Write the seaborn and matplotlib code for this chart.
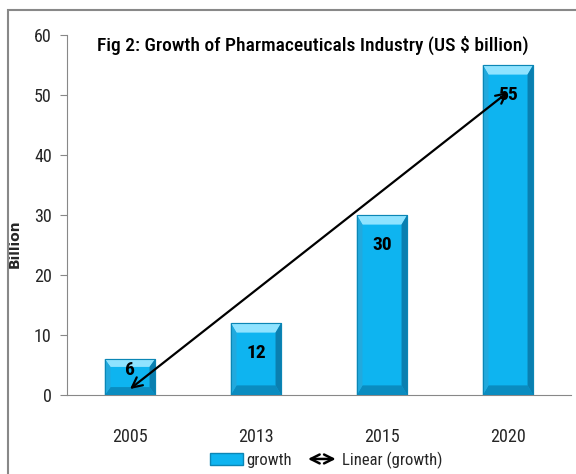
import numpy as np
import pandas as pd
import matplotlib
matplotlib.use("Agg")
import matplotlib.pyplot as plt
import seaborn as sns
from matplotlib.patches import Polygon, Patch, FancyArrowPatch, Rectangle
from matplotlib.lines import Line2D
from matplotlib.legend_handler import HandlerBase

years = ["2005", "2013", "2015", "2020"]
growth = [6, 12, 30, 55]
yticks = [0, 10, 20, 30, 40, 50, 60]
title = "Fig 2: Growth of Pharmaceuticals Industry (US $ billion)"
ylabel = "Billion"

sns.set_style("white")
FONT = ['Roboto Condensed', 'DejaVu Sans']
plt.rcParams['font.family'] = FONT

df = pd.DataFrame({"year": years, "growth": growth})

fig = plt.figure(figsize=(5.76, 4.74), dpi=100)
ax = fig.add_axes([67/576, 1-395/474, (571-67)/576, (395-35)/474])

BAR = "#0EB4F0"
EDGE = "#0B86B5"
sns.barplot(data=df, x="year", y="growth", color=BAR, width=0.4,
            saturation=1, edgecolor=EDGE, linewidth=0.8, ax=ax, zorder=2)

# bevel decoration derived from bar geometry
for p in list(ax.patches):
    x0, y0 = p.get_x(), p.get_y()
    w, h = p.get_width(), p.get_height()
    x1, y1 = x0 + w, y0 + h
    bx, by = 0.045, min(1.6, h * 0.22)
    tops = [(x0, y1), (x1, y1), (x1 - bx, y1 - by), (x0 + bx, y1 - by)]
    bots = [(x0, y0), (x1, y0), (x1 - bx, y0 + by), (x0 + bx, y0 + by)]
    lefts = [(x0, y0), (x0, y1), (x0 + bx, y1 - by), (x0 + bx, y0 + by)]
    rights = [(x1, y0), (x1, y1), (x1 - bx, y1 - by), (x1 - bx, y0 + by)]
    for pts, c in [(tops, "#8FE3FF"), (bots, "#0A8CC0"), (lefts, "#22A9DD"), (rights, "#0A7FB0")]:
        ax.add_patch(Polygon(pts, closed=True, facecolor=c, edgecolor="none", zorder=3))
    ax.add_patch(Rectangle((x0, y0), w, h, fill=False, edgecolor=EDGE, lw=0.8, zorder=4))

# value labels
for i, v in enumerate(growth):
    ax.text(i, max(v - 5, 4.2), str(v), ha="center", va="center",
            fontsize=14, fontweight="bold", color="black", zorder=6)

# linear trend arrow
xs = np.arange(len(growth))
slope, icpt = np.polyfit(xs + 1, growth, 1)
ys = slope * (xs + 1) + icpt
ax.annotate("", xy=(xs[0], ys[0]), xytext=(xs[-1], ys[-1]),
            arrowprops=dict(arrowstyle="<->", color="black", lw=1.6,
                            mutation_scale=18, shrinkA=0, shrinkB=0), zorder=7)

ax.set_xlim(-0.5, 3.5)
ax.set_ylim(0, 60)
ax.set_yticks(yticks)
ax.set_xticks(range(len(years)))
ax.set_xticklabels(years)
ax.set_xticks([-0.5, 0.5, 1.5, 2.5, 3.5], minor=True)
ax.tick_params(axis="x", which="major", length=0, pad=24, labelsize=13)
ax.tick_params(axis="x", which="minor", length=6, color="#888888", direction="out")
ax.tick_params(axis="y", length=5, color="#888888", direction="out", pad=6, labelsize=13, left=True)
ax.set_xlabel("")
ax.set_ylabel(ylabel, fontsize=10, fontweight="bold", family="DejaVu Sans")
ax.yaxis.set_label_coords(-0.089, 0.42)
for s in ["top", "right"]:
    ax.spines[s].set_visible(False)
for s in ["left", "bottom"]:
    ax.spines[s].set_color("#888888")
    ax.spines[s].set_linewidth(0.8)

ax.text(0.488, 0.972, title, transform=ax.transAxes, ha="center", va="center",
        fontsize=14, fontweight="medium", color="black")

# figure border
fig.add_artist(Rectangle((8/576, -0.1), 1.2, 1 - 10/474 + 0.1, transform=fig.transFigure,
                         fill=False, edgecolor="#888888", lw=1.5))


class ArrowHandler(HandlerBase):
    def create_artists(self, legend, orig, xd, yd, w, h, fs, trans):
        a = FancyArrowPatch((xd, yd + h / 2), (xd + w, yd + h / 2), arrowstyle="<->",
                            mutation_scale=16, lw=1.8, color="black", transform=trans)
        return [a]


handles = [Patch(facecolor=BAR, edgecolor=EDGE), Line2D([], [], color="black")]
fig.legend(handles, ["growth", "Linear (growth)"], handler_map={Line2D: ArrowHandler()},
           loc="center", bbox_to_anchor=(0.566, 1 - 460/474), ncol=2, frameon=False,
           fontsize=12, handlelength=2.0, handletextpad=0.2, columnspacing=0.8,
           borderpad=0.1)

fig.savefig("out.png", dpi=100)
